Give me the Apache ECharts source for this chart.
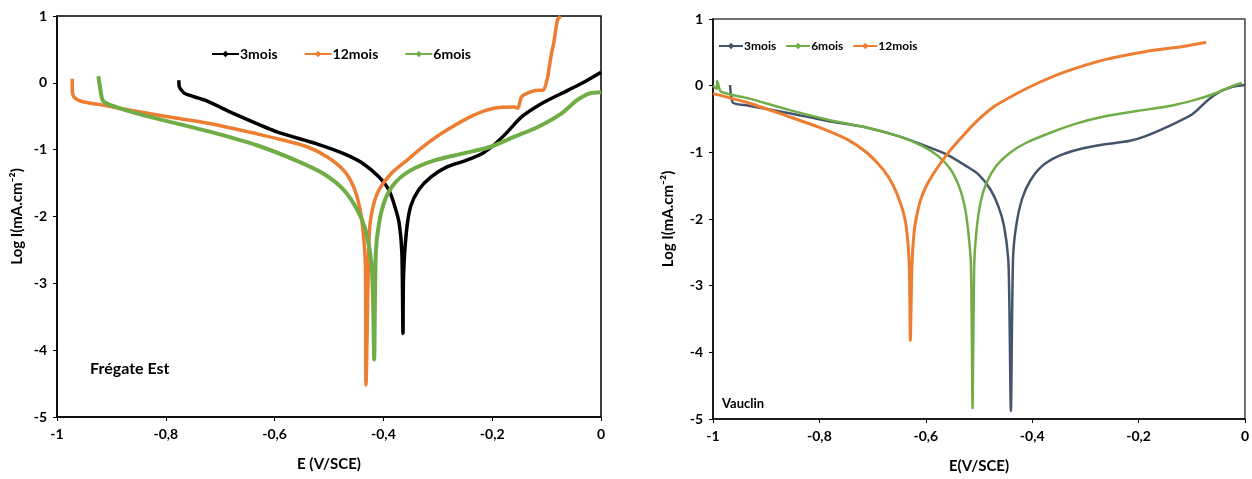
<!DOCTYPE html>
<html>
<head>
<meta charset="utf-8">
<script src="https://cdn.jsdelivr.net/npm/echarts@6/dist/echarts.min.js"></script>
<style>
html,body{margin:0;padding:0;background:#fff;}
#c{width:1252px;height:479px;}
</style>
</head>
<body>
<div id="c"></div>
<script>
// ---- Tick labels ----
var xTicks = [-1, -0.8, -0.6, -0.4, -0.2, 0];
var yTicks = [-5, -4, -3, -2, -1, 0, 1];

// ---- Frégate Est (left) ----
var fe3E = [-0.776,-0.775,-0.765,-0.728,-0.670,-0.597,-0.524,-0.473,-0.437,-0.408,-0.390,-0.379,-0.371,-0.366,-0.364,-0.363,-0.358,-0.350,-0.335,-0.313,-0.284,-0.248,-0.219,-0.197,-0.175,-0.146,-0.109,-0.073,-0.036,0];
var fe3I = [0.04,-0.06,-0.16,-0.26,-0.48,-0.73,-0.91,-1.06,-1.21,-1.41,-1.60,-1.85,-2.10,-2.55,-3.75,-2.90,-2.25,-1.85,-1.60,-1.41,-1.26,-1.16,-1.06,-0.93,-0.76,-0.51,-0.31,-0.16,-0.01,0.16];

var fe12E = [-0.972,-0.972,-0.969,-0.954,-0.918,-0.852,-0.779,-0.706,-0.634,-0.583,-0.539,-0.503,-0.473,-0.455,-0.444,-0.437,-0.433,-0.432,-0.426,-0.419,-0.408,-0.386,-0.357,-0.320,-0.284,-0.233,-0.197,-0.160,-0.153,-0.146,-0.131,-0.116,-0.106,-0.098,-0.095,-0.091,-0.087,-0.080,-0.074];
var fe12I = [0.06,-0.09,-0.21,-0.28,-0.33,-0.43,-0.53,-0.63,-0.76,-0.86,-0.96,-1.11,-1.31,-1.55,-1.85,-2.25,-2.75,-4.52,-2.25,-1.85,-1.60,-1.36,-1.16,-0.91,-0.71,-0.48,-0.38,-0.36,-0.38,-0.21,-0.14,-0.11,-0.11,0.09,0.24,0.44,0.59,0.94,1.0];

var fe6E = [-0.924,-0.921,-0.916,-0.903,-0.852,-0.779,-0.706,-0.634,-0.561,-0.510,-0.473,-0.448,-0.433,-0.422,-0.419,-0.417,-0.414,-0.408,-0.397,-0.379,-0.350,-0.306,-0.255,-0.204,-0.160,-0.116,-0.073,-0.044,-0.022,0];
var fe6I = [0.10,-0.06,-0.26,-0.33,-0.46,-0.61,-0.76,-0.93,-1.16,-1.36,-1.60,-1.90,-2.20,-2.70,-3.25,-4.14,-2.55,-2.10,-1.75,-1.50,-1.31,-1.16,-1.06,-0.96,-0.81,-0.66,-0.46,-0.26,-0.16,-0.14];

// ---- Vauclin (right) ----
var va3E = [-0.968,-0.966,-0.962,-0.933,-0.859,-0.784,-0.710,-0.650,-0.598,-0.561,-0.523,-0.501,-0.479,-0.464,-0.453,-0.445,-0.443,-0.440,-0.436,-0.430,-0.419,-0.404,-0.382,-0.352,-0.315,-0.263,-0.218,-0.188,-0.144,-0.099,-0.069,-0.047,-0.025,0];
var va3I = [0.01,-0.15,-0.26,-0.30,-0.41,-0.53,-0.63,-0.76,-0.91,-1.03,-1.21,-1.33,-1.55,-1.80,-2.10,-2.60,-3.20,-4.88,-2.60,-2.10,-1.70,-1.43,-1.21,-1.06,-0.96,-0.88,-0.83,-0.76,-0.61,-0.43,-0.21,-0.09,-0.02,0.01];

var va6E = [-1.0,-0.993,-0.992,-0.985,-0.933,-0.859,-0.784,-0.710,-0.650,-0.605,-0.576,-0.553,-0.538,-0.527,-0.520,-0.515,-0.512,-0.509,-0.505,-0.497,-0.486,-0.468,-0.442,-0.412,-0.367,-0.322,-0.263,-0.203,-0.144,-0.092,-0.054,-0.025,-0.006];
var va6I = [0.0,-0.05,0.07,-0.09,-0.19,-0.36,-0.51,-0.63,-0.76,-0.91,-1.06,-1.26,-1.50,-1.80,-2.20,-2.70,-4.84,-2.70,-2.20,-1.75,-1.46,-1.21,-1.01,-0.86,-0.71,-0.58,-0.46,-0.38,-0.31,-0.21,-0.11,-0.01,0.04];

var va12E = [-1.0,-0.933,-0.859,-0.799,-0.747,-0.710,-0.680,-0.661,-0.646,-0.637,-0.631,-0.629,-0.626,-0.622,-0.617,-0.610,-0.600,-0.588,-0.572,-0.553,-0.530,-0.505,-0.471,-0.427,-0.389,-0.337,-0.263,-0.188,-0.114,-0.073];
var va12I = [-0.12,-0.26,-0.46,-0.63,-0.81,-1.01,-1.26,-1.50,-1.80,-2.10,-2.70,-3.82,-2.70,-2.20,-1.95,-1.72,-1.52,-1.35,-1.16,-0.96,-0.75,-0.54,-0.31,-0.11,0.04,0.21,0.39,0.51,0.59,0.65];

function pairs(xs, ys){ return xs.map(function(x,i){ return [x, ys[i]]; }); }
function fmt(v){ return String(Math.round(v*10)/10).replace('.', ','); }

var FONT = 'Lato';
var BLACK = '#000000', ORANGE = '#ED7D31', GREEN = '#70AD47', SLATE = '#44546A';

function xAx(gi, name){
  return {
    gridIndex: gi, type: 'value', min: xTicks[0], max: xTicks[xTicks.length-1], interval: 0.2,
    name: name, nameLocation: 'middle', nameGap: 40,
    nameTextStyle: {fontFamily: FONT, fontWeight: 'bold', fontSize: 15, color: '#000'},
    axisLine: {onZero: false, lineStyle: {color: '#000', width: 1.5}},
    axisTick: {show: true, length: 4, lineStyle: {color: '#000'}},
    axisLabel: {formatter: fmt, fontFamily: FONT, fontWeight: 'bold', fontSize: 14, color: '#000', margin: 10},
    splitLine: {show: false}
  };
}
function yAx(gi, gap){
  return {
    gridIndex: gi, type: 'value', min: yTicks[0], max: yTicks[yTicks.length-1], interval: 1,
    name: 'Log I(mA.cm⁻²)', nameLocation: 'middle', nameGap: gap, nameRotate: 90,
    nameTextStyle: {fontFamily: FONT, fontWeight: 'bold', fontSize: 15, color: '#000'},
    axisLine: {onZero: false, lineStyle: {color: '#000', width: 1.5}},
    axisTick: {show: true, length: 4, lineStyle: {color: '#000'}},
    axisLabel: {formatter: fmt, fontFamily: FONT, fontWeight: 'bold', fontSize: 14, color: '#000', margin: 10},
    splitLine: {show: false}
  };
}
function ser(name, gi, xs, ys, color, w){
  return {
    name: name, type: 'line', xAxisIndex: gi, yAxisIndex: gi,
    data: pairs(xs, ys), showSymbol: false, symbol: 'diamond', symbolSize: 6,
    smooth: 0.25, lineStyle: {color: color, width: w}, itemStyle: {color: color},
    emphasis: {disabled: true}, z: 3
  };
}

var chart = echarts.init(document.getElementById('c'), null, {renderer: 'canvas'});
chart.setOption({
  animation: false,
  backgroundColor: '#fff',
  grid: [
    {left: 57, top: 16, width: 544, height: 401, show: true, borderColor: '#000', borderWidth: 1.5, backgroundColor: 'transparent'},
    {left: 713, top: 19, width: 534, height: 402, show: true, borderColor: '#404040', borderWidth: 1.5, backgroundColor: 'transparent'}
  ],
  xAxis: [xAx(0, 'E (V/SCE)'), xAx(1, 'E(V/SCE)')],
  yAxis: [yAx(0, 32), yAx(1, 37)],
  legend: [
    {
      data: ['3mois', '12mois', '6mois'], left: 206, top: 42, itemWidth: 27, itemHeight: 8, itemGap: 26,
      textStyle: {fontFamily: FONT, fontWeight: 'bold', fontSize: 14, color: '#000', padding: [0,0,0,-4]}
    },
    {
      data: ['3mois ', '6mois ', '12mois '], left: 713, top: 35, itemWidth: 24, itemHeight: 8, itemGap: 6,
      textStyle: {fontFamily: FONT, fontWeight: 'bold', fontSize: 12, color: '#000', padding: [0,0,0,-4]}
    }
  ],
  series: [
    ser('3mois', 0, fe3E, fe3I, BLACK, 3.5),
    ser('12mois', 0, fe12E, fe12I, ORANGE, 3.5),
    ser('6mois', 0, fe6E, fe6I, GREEN, 4),
    ser('3mois ', 1, va3E, va3I, SLATE, 2.5),
    ser('6mois ', 1, va6E, va6I, GREEN, 2.5),
    ser('12mois ', 1, va12E, va12I, ORANGE, 3)
  ],
  graphic: [
    {type: 'text', left: 90, top: 361, style: {text: 'Frégate Est', fontFamily: FONT, fontWeight: 'bold', fontSize: 16, fill: '#000'}},
    {type: 'text', left: 722, top: 397, style: {text: 'Vauclin', fontFamily: FONT, fontWeight: 'bold', fontSize: 13, fill: '#000'}}
  ]
});
</script>
</body>
</html>
